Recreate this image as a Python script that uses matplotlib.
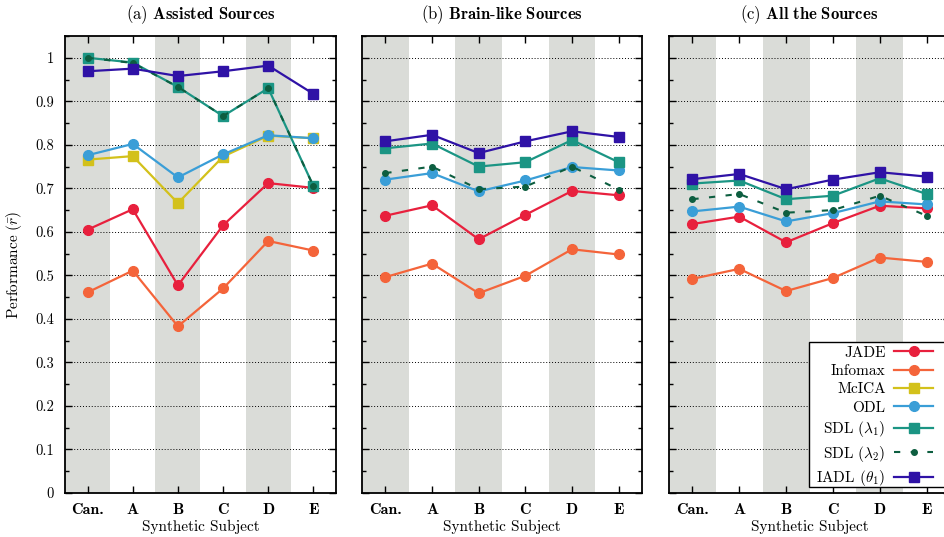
import matplotlib
matplotlib.use("Agg")
import matplotlib.pyplot as plt
from matplotlib.ticker import MultipleLocator, FuncFormatter
from matplotlib.patches import Rectangle

plt.rcParams['font.family'] = 'cmr10'
plt.rcParams['mathtext.fontset'] = 'cm'
plt.rcParams['axes.unicode_minus'] = False
plt.rcParams['font.size'] = 10

subjects = ["Can.", "A", "B", "C", "D", "E"]

# (a) assisted sources
a_jade = [0.605, 0.652, 0.477, 0.615, 0.712, 0.701]
a_infomax = [0.461, 0.511, 0.383, 0.470, 0.579, 0.557]
a_mcica = [0.766, 0.774, 0.666, 0.773, 0.821, 0.815]
a_odl = [0.776, 0.802, 0.725, 0.778, 0.822, 0.815]
a_sdl1 = [1.000, 0.989, 0.933, 0.866, 0.930, 0.705]
a_sdl2 = [1.000, 0.988, 0.933, 0.866, 0.930, 0.705]
a_iadl = [0.969, 0.975, 0.958, 0.969, 0.982, 0.917]

# (b) brain-like sources
b_jade = [0.637, 0.661, 0.583, 0.639, 0.694, 0.684]
b_infomax = [0.496, 0.527, 0.459, 0.499, 0.560, 0.548]
b_odl = [0.720, 0.735, 0.693, 0.718, 0.749, 0.741]
b_sdl1 = [0.792, 0.803, 0.750, 0.760, 0.811, 0.760]
b_sdl2 = [0.735, 0.750, 0.698, 0.704, 0.750, 0.697]
b_iadl = [0.808, 0.823, 0.781, 0.808, 0.831, 0.818]

# (c) all the sources
c_jade = [0.618, 0.635, 0.576, 0.620, 0.660, 0.654]
c_infomax = [0.492, 0.515, 0.464, 0.494, 0.541, 0.531]
c_odl = [0.647, 0.658, 0.624, 0.643, 0.670, 0.663]
c_sdl1 = [0.711, 0.718, 0.675, 0.683, 0.723, 0.687]
c_sdl2 = [0.675, 0.687, 0.644, 0.650, 0.683, 0.637]
c_iadl = [0.721, 0.733, 0.698, 0.720, 0.737, 0.727]

methods = ["JADE", "Infomax", "McICA", "ODL", "SDL1", "SDL2", "IADL"]
labels = {"JADE": "JADE", "Infomax": "Infomax", "McICA": "McICA", "ODL": "ODL",
          "SDL1": r"SDL ($\lambda_1$)", "SDL2": r"SDL ($\lambda_2$)",
          "IADL": r"IADL ($\theta_1$)"}
styles = {
    "JADE": dict(color="#e8203d", marker="o", ms=7, ls="-", lw=1.6),
    "Infomax": dict(color="#f4643a", marker="o", ms=7, ls="-", lw=1.6),
    "McICA": dict(color="#d3c11b", marker="s", ms=7.5, ls="-", lw=1.6),
    "ODL": dict(color="#3a9ed7", marker="o", ms=7, ls="-", lw=1.6),
    "SDL1": dict(color="#1b9584", marker="s", ms=7.5, ls="-", lw=1.6),
    "SDL2": dict(color="#0d5e40", marker="o", ms=4, ls=(0, (3, 5)), lw=1.5),
    "IADL": dict(color="#2f12a6", marker="s", ms=7.5, ls="-", lw=1.6),
}

panels = [
    (r"(a) $\mathbf{Assisted\ Sources}$",
     {"JADE": a_jade, "Infomax": a_infomax, "McICA": a_mcica, "ODL": a_odl,
      "SDL1": a_sdl1, "SDL2": a_sdl2, "IADL": a_iadl}),
    (r"(b) $\mathbf{Brain}$-$\mathbf{like\ Sources}$",
     {"JADE": b_jade, "Infomax": b_infomax, "ODL": b_odl,
      "SDL1": b_sdl1, "SDL2": b_sdl2, "IADL": b_iadl}),
    (r"(c) $\mathbf{All\ the\ Sources}$",
     {"JADE": c_jade, "Infomax": c_infomax, "ODL": c_odl,
      "SDL1": c_sdl1, "SDL2": c_sdl2, "IADL": c_iadl}),
]

W, H = 944, 537
fig = plt.figure(figsize=(W / 100, H / 100), dpi=100)
# axes boxes in pixels: left, width
boxes = [(65, 271), (362, 280), (669, 281)]
bottom, top = 493, 36

x = list(range(len(subjects)))
handles = {}
for i, ((title, data), (left, width)) in enumerate(zip(panels, boxes)):
    ax = fig.add_axes([left / W, (H - bottom) / H, width / W, (bottom - top) / H])
    for k in range(0, len(subjects), 2):
        ax.axvspan(k - 0.5, k + 0.5, color="#dadcd8", lw=0, zorder=1)
    for m in methods:
        if m not in data:
            continue
        st = styles[m]
        h, = ax.plot(x, data[m], color=st["color"], marker=st["marker"],
                     ms=st["ms"], ls=st["ls"], lw=st["lw"], mec=st["color"],
                     mfc=st["color"], label=labels[m], zorder=3)
        handles.setdefault(m, h)

    ax.set_xlim(-0.5, 5.5)
    ax.set_ylim(0, 1.05)
    ax.set_xticks(x)
    ax.set_xticklabels(subjects, family="cmb10", fontsize=11.5)
    ax.yaxis.set_major_locator(MultipleLocator(0.1))
    ax.yaxis.set_minor_locator(MultipleLocator(0.05))
    ax.set_axisbelow("line")
    ax.yaxis.grid(True, which="major", ls=(0, (1, 2)), color="black", lw=0.7)
    ax.tick_params(which="both", direction="in", top=True, right=True, width=1)
    ax.tick_params(which="major", length=5)
    ax.tick_params(which="minor", length=3)
    ax.tick_params(axis="x", pad=7)
    ax.tick_params(axis="y", pad=8, labelsize=10.5)
    for s in ax.spines.values():
        s.set_linewidth(1.3)
    if i == 0:
        ax.yaxis.set_major_formatter(FuncFormatter(lambda v, _: f"{round(v, 2):g}"))
        ax.set_ylabel(r"Performance ($\bar{r}$)", fontsize=11)
        ax.yaxis.set_label_coords(-0.152, 0.5)
    else:
        ax.set_yticklabels([])
    ax.set_xlabel("Synthetic Subject", labelpad=2, fontsize=11)
    ax.set_title(title, pad=12)

# legend box
fig.add_artist(Rectangle((809 / W, (H - 487) / H), (952 - 809) / W, (487 - 342) / H,
                         transform=fig.transFigure, facecolor="white",
                         edgecolor="black", lw=1, zorder=4))
fig.legend([handles[m] for m in methods], [labels[m] for m in methods],
           loc="upper right", bbox_to_anchor=(933 / W, (H - 346) / H),
           frameon=False, markerfirst=False, borderpad=0, borderaxespad=0,
           fontsize=11, handlelength=2.55, handletextpad=0.55, labelspacing=0.3)

fig.savefig("out.png", dpi=100)
